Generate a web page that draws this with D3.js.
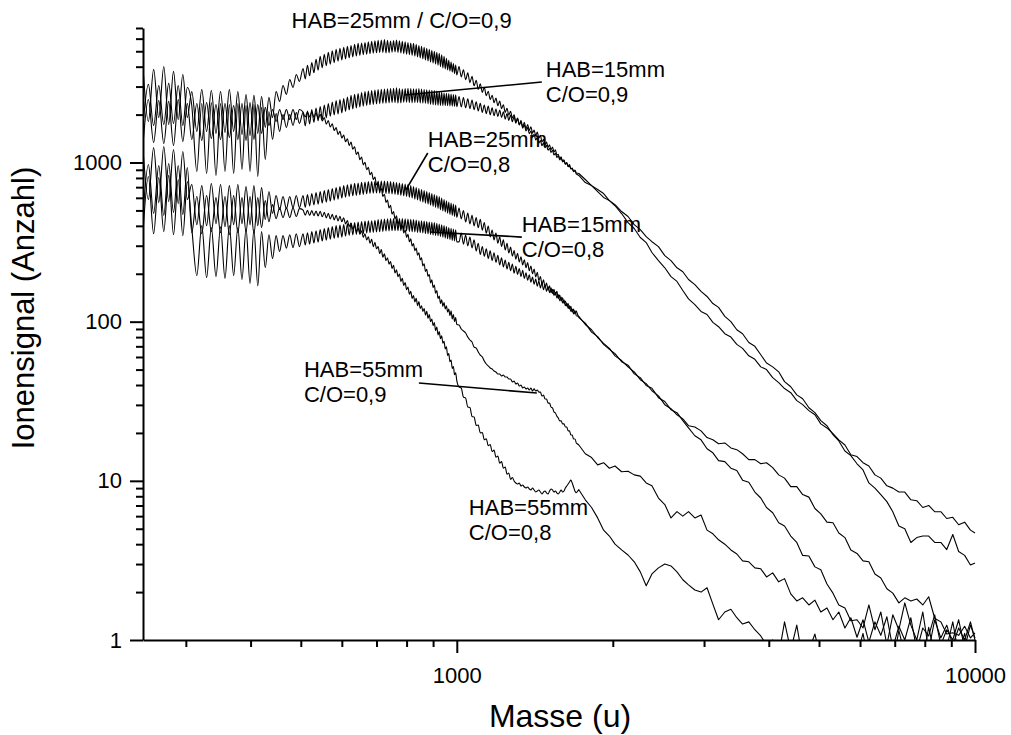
<!DOCTYPE html>
<html><head><meta charset="utf-8">
<script src="https://cdn.jsdelivr.net/npm/d3@7"></script>
<style>
html,body{margin:0;padding:0;background:#fff;}
svg{display:block;font-family:"Liberation Sans",Arial,Helvetica,sans-serif;}
</style></head><body>
<svg id="chart" width="1011" height="735"></svg>
<script>
// ---------- DATA ----------
const masses = [
248,254,260,266,272,278,284,290,296,302,
308,315,322,329,336,343,350,357,364,371,378,385,392,399,406,413,420,427,434,441,448,455,462,469,476,483,490,497,
505,510,515,520,525,530,535,540,545,550,555,560,565,570,575,580,585,590,595,600,
605,610,615,620,625,630,635,640,645,650,655,660,665,670,675,680,685,690,695,700,
705,710,715,720,725,730,735,740,745,750,755,760,765,770,775,780,785,790,795,800,
805,810,815,820,825,830,835,840,845,850,855,860,865,870,875,880,885,890,895,900,
905,910,915,920,925,930,935,940,945,950,955,960,965,970,975,980,985,990,995,1000,
1010,1020,1030,1040,1050,1060,1070,1080,1090,1100,1110,1120,1130,1140,1150,1160,1170,1180,1190,1200,
1210,1220,1230,1240,1250,1260,1270,1280,1290,1300,1310,1320,1330,1340,1350,1360,1370,1380,1390,1400,
1410,1420,1430,1440,1450,1460,1470,1480,1490,1500,1510,1520,1530,1540,1550,1560,1570,1580,1590,1600,
1610,1620,1630,1640,1650,1660,1670,1680,1690,1700,
1720,1770,1820,1870,1920,1970,2020,2080,2140,2200,2260,2320,2380,2450,2520,2590,2660,2730,2800,2880,2960,3040,3120,3200,3290,3380,3470,3560,3660,3760,3860,3960,4070,4180,4290,4410,4530,4650,4780,4910,5040,5180,5320,5460,5610,5760,5920,6080,6240,6410,6580,6760,6940,7130,7320,7520,7720,7930,8140,8360,8590,8820,9060,9300,9550,9800,10000
];

const hab25co09 = [
3955,1808,3845,1915,4010,1733,3735,1862,3575,1915,
2795,1567,2875,1567,2835,1522,2795,1545,2875,1567,2795,1500,2677,1480,2640,1522,2600,1660,2565,1915,2795,2420,3050,2677,3325,2960,3575,3230,
3900,3355,4075,3506,4250,3660,4445,3804,4640,3940,4780,4055,4920,4145,5030,4235,5140,4330,5215,4410,
5290,4480,5365,4540,5440,4610,5520,4665,5600,4715,5640,4760,5680,4790,5725,4825,5770,4865,5810,4890,
5850,4910,5885,4910,5920,4880,5860,4890,5800,4940,5840,4945,5880,4915,5825,4880,5770,4835,5725,4790,
5680,4760,5640,4715,5600,4665,5520,4610,5440,4545,5365,4480,5290,4410,5215,4345,5140,4280,5065,4220,
4990,4160,4920,4085,4850,4000,4745,3925,4640,3870,4510,3820,4380,3760,4285,3695,4190,3615,4100,3545,
4010,3450,3828,3313,3655,3177,3478,3033,3284,2879,3122,2757,2964,2628,2805,2488,2647,2376,2539,2278,
2435,2181,2307,2064,2187,1986,2100,1904,1997,1792,1896,1720,1802,1643,1723,1577,1657,1517,1577,1450,
1503,1387,1435,1326,1373,1273,1328,1237,1281,1196,1229,1157,1193,1116,1142,1075,1100,1038,1066,1009,
1025,976,994,942,953,910,918,876,885,847,
829,748,716,657,603,576,535,478,419,385,338,314,272,242,218,192,179,157,139,128,116,111,99,93,84,80,72,68,61,58,52,50,44.5,41.4,38,35.8,31.9,30.1,27.6,26,22.8,21.5,19.8,18.1,16.8,14.6,14.2,13,12.4,10.9,10.4,9.3,9.0,8.5,8.5,7.6,7.5,6.8,7.0,6.4,6.4,5.8,5.9,5.3,5.5,4.9,4.7
];

const hab15co09 = [
1733,3095,1708,3050,1733,3140,1760,3050,1708,2960,
2280,878,2350,853,2385,830,2350,878,2315,853,2350,904,2280,878,2315,816,2220,1045,2090,1396,2030,1567,2003,1660,2003,1708,2060,1760,
2060,1700,2105,1750,2155,1790,2200,1830,2250,1870,2300,1910,2350,1955,2400,1990,2455,2015,2490,2050,
2525,2100,2580,2140,2640,2170,2680,2205,2715,2235,2755,2260,2795,2285,2815,2305,2835,2320,2855,2335,
2875,2345,2885,2355,2895,2360,2905,2370,2915,2380,2930,2380,2950,2365,2920,2370,2890,2390,2910,2395,
2930,2380,2915,2375,2900,2380,2905,2380,2915,2370,2895,2360,2875,2355,2865,2335,2855,2320,2845,2305,
2835,2300,2815,2290,2795,2285,2765,2280,2735,2280,2725,2275,2715,2270,2695,2260,2677,2255,2660,2245,
2597,2232,2556,2206,2513,2181,2466,2146,2406,2106,2351,2064,2297,2029,2261,1994,2206,1968,2171,1945,
2134,1920,2085,1873,2032,1839,1988,1802,1943,1766,1901,1725,1839,1676,1786,1628,1733,1589,1679,1530,
1602,1476,1552,1432,1482,1347,1397,1292,1345,1248,1292,1203,1251,1166,1200,1111,1127,1052,1086,1019,
1041,980,998,948,970,914,922,881,898,859,
853,782,716,676,638,576,544,492,458,407,379,342,318,296,260,242,218,206,184,171,155,144,130,123,108,100,89,84,74,70,62,55,52,48.4,42,39,34.7,32.8,28.8,26.8,23.9,22.2,19.5,17.8,15.4,14.4,12.8,11.7,9.7,9.0,8.2,7.4,6.4,5.2,5.0,4.1,4.4,4.5,4.5,4.1,4.1,3.7,4.6,3.6,3.4,2.96,3.05
];

const hab25co08 = [
1208,585,1240,560,1260,568,1208,552,1172,585,
727,407,716,401,738,413,727,395,716,407,727,413,705,407,716,401,695,438,657,478,620,506,611,513,611,520,620,520,
620,523,629,534,638,541,648,548,657,556,667,564,676,572,687,580,697,589,706,598,
716,606,725,613,733,618,739,622,744,627,750,631,755,636,758,639,760,642,763,643,
766,643,766,642,766,639,763,637,760,635,755,632,749,627,744,623,738,618,733,613,
727,606,716,598,705,589,696,581,686,572,676,564,666,556,657,548,647,540,638,532,
629,524,620,515,611,505,598,496,585,489,575,481,564,472,556,465,548,458,540,452,
518,442,499,423,481,411,466,400,451,389,439,376,420,359,399,341,377,326,361,311,
341,297,327,282,311,270,294,258,280,247,269,237,256,227,245,218,235,209,224,200,
214,191,204,181,192,172,183,165,175,158,168,152,160,146,153,141,148,135,143,131,
137,126,131,121,126,116,120,112,117,109,
108,96,89,79.5,73,68,61,57,52,48.4,43.2,40.8,36.8,34.2,30.1,28.4,26,24.5,22.2,21.8,20.6,18.7,18.1,17.1,17.3,16.1,15.7,14.8,13.6,13.6,12.8,13.0,12.1,10.9,10.4,9.2,9.2,8.2,7.9,6.7,6.2,5.5,5.45,4.7,4.4,3.68,3.5,3.14,3.1,2.6,2.45,2.1,1.97,1.71,1.84,1.76,1.81,1.66,1.87,1.37,1.30,1.09,1.11,1.07,1.22,1.03,1.11
];

const hab15co08 = [
362,816,357,805,368,830,352,782,347,760,
390,195,401,189,390,192,395,187,401,195,390,184,384,174,379,168,368,218,352,249,347,276,347,290,352,292,357,296,
357,303,362,307,368,312,373,316,379,321,384,325,390,330,396,334,401,337,404,340,
407,345,412,349,416,351,419,353,422,356,425,358,428,361,430,363,431,364,434,366,
438,367,440,369,441,371,443,372,444,373,444,373,444,373,444,373,444,372,443,371,
441,369,440,367,438,366,435,364,431,363,430,361,428,358,425,356,422,353,421,351,
419,348,415,346,410,343,406,339,401,335,396,332,390,328,386,324,382,321,378,317,
317,361,307,350,299,340,291,327,278,311,264,297,257,287,249,279,242,271,236,261,
227,252,221,244,214,236,209,230,202,223,198,216,192,210,187,203,182,197,177,191,
172,185,167,180,163,175,159,170,155,166,152,163,150,160,147,155,140,147,135,141,
130,135,125,130,120,125,115,120,112,117,
106,98,86,80.5,72,67,63,56,53.3,47,44.5,39.7,38.2,33.3,31.5,28,26.8,23.9,21.5,19.2,18.1,15.9,15.0,13.4,13.2,12.0,11.6,10.1,9.8,8.5,7.8,6.8,6.3,5.45,5.2,4.5,4.1,3.4,3.37,2.88,2.76,2.25,1.97,1.66,1.59,1.32,1.34,1.19,1.66,1.16,1.5,0.93,1.44,1.16,1.71,1.24,1.0,1.5,0.86,1.34,1.03,1.24,0.93,1.19,1.0,1.30,1.0
];

const hab55co09 = [
1298,2490,1335,2455,1316,2420,1280,2490,1356,2350,
1396,2350,1377,2385,1415,2315,1396,2350,1435,2280,1396,2350,1377,2385,1396,2315,1522,2220,1708,2155,1808,2155,1862,2155,1862,2155,1862,2155,
2078,1932,2078,1932,2078,1923,2051,1890,2010,1826,1915,1743,1834,1670,1753,1588,1660,1502,1572,1425,
1490,1350,1410,1280,1345,1213,1255,1125,1163,1042,1081,967,1002,902,934,838,869,782,810,724,
750,664,688,612,632,562,580,518,538,474,492,441,463,411,428,385,402,361,377,339,
354,318,332,299,310,279,290,262,271,244,252,224,231,207,213,193,198,175,183,164,
170,151,157,140,145,130,137,125,132,120,126,115,120,109,117,104,111,100,106,96,
95.3,89.9,87.4,84.9,80.1,76.7,74.5,69.3,68.3,64.5,61.7,60.0,56.6,54.2,52.7,51.2,50.4,49.0,48.3,46.9,
46.9,45.6,46.2,44.9,44.9,43.6,43.6,41.8,42.4,40.6,41.2,39.4,40.0,38.3,38.9,37.8,38.3,37.2,38.3,36.7,
37.8,36.7,37.2,36.1,36.1,34.1,34.6,32.7,32.7,30.8,30.8,29.1,28.7,27.1,26.7,25.5,24.8,23.8,23.8,22.8,
22.8,21.8,21.8,20.6,20.6,19.4,19.4,18.3,18.3,17.3,
16.8,14.8,14.0,12.6,13.0,12.0,12.4,11.4,11.5,10.9,10.7,9.7,9.3,7.8,7.1,5.85,6.4,6.0,6.4,5.85,6.1,4.9,4.65,4.26,4.0,3.68,3.47,3.14,3.1,2.84,2.8,2.49,2.64,2.32,2.43,1.95,1.76,1.84,1.66,1.78,1.5,1.59,1.34,1.50,1.19,1.38,1.04,1.34,0.97,1.30,1.07,1.40,0.89,1.22,1.0,1.38,0.86,1.19,1.06,1.44,0.93,1.16,1.0,1.34,0.89,1.24,1.03
];

const hab55co08 = [
471,971,478,957,465,985,485,957,471,930,
362,611,357,620,368,602,362,611,352,620,362,602,368,611,357,602,390,576,425,544,444,520,450,520,450,520,458,513,
503,467,500,465,499,464,496,461,494,456,486,449,479,442,472,436,466,430,459,424,
450,411,432,396,417,381,401,367,387,355,372,339,357,326,342,311,329,296,315,287,
296,268,284,254,267,242,252,230,239,216,226,202,212,192,199,179,187,169,176,159,
165,149,155,140,146,133,140,126,134,121,126,116,121,110,116,105,111,100,104,94.4,
98.6,88,92.5,82.5,86.7,78.2,81.5,73.3,75.3,67.4,69.5,61.4,63,56,57.5,50.8,52.3,46.4,47.7,42.6,
38.9,38.3,33.6,33.1,29.1,28.9,25.4,25.2,22.3,22.4,20.0,20.1,18.1,18.4,16.6,16.9,15.3,15.6,14.1,14.3,
12.9,13.2,12.0,12.2,11.0,11.2,10.2,10.5,9.98,9.69,9.55,9.69,9.28,9.41,9.15,9.02,9.15,8.89,8.76,9.02,
8.76,8.51,8.63,8.76,8.51,8.27,8.51,8.63,8.39,8.27,8.63,8.89,8.76,8.51,8.63,8.39,8.27,8.51,8.76,8.51,
8.63,9.02,9.28,9.55,9.83,10.1,9.69,9.15,8.63,8.39,
8.8,7.6,6.8,5.85,4.9,4.5,4.0,3.68,3.42,3.1,2.68,2.19,2.6,2.84,3.0,2.92,2.68,2.39,2.22,2.06,2.0,2.13,1.68,1.34,1.5,1.56,1.38,1.26,1.30,1.16,1.06,0.93,1.0,0.8,1.30,0.86,1.24,0.75,0.86,1.09,0.75,0.7,0.8,0.75,0.9,0.7,0.8,1.1,0.7,0.8,0.75,0.9,0.7,1.15,0.8,0.7,0.85,0.75,1.2,0.8,0.7,0.9,1.3,0.8,1.1,0.75,0.8
];

const yMajorTicks = [1, 10, 100, 1000];
const yMinorTicks = [2,3,4,5,6,7,8,9,20,30,40,50,60,70,80,90,200,300,400,500,600,700,800,900,2000,3000,4000,5000,6000,7000];
const xMajorTicks = [1000, 10000];
const xMinorTicks = [300,400,500,600,700,800,900,2000,3000,4000,5000,6000,7000,8000,9000];

// curve labels: text lines, anchor (mass, value) of first baseline
const labelTexts = [
  ["HAB=25mm / C/O=0,9"],
  ["HAB=15mm", "C/O=0,9"],
  ["HAB=25mm", "C/O=0,8"],
  ["HAB=15mm", "C/O=0,8"],
  ["HAB=55mm", "C/O=0,9"],
  ["HAB=55mm", "C/O=0,8"]
];
const labelAnchors = [[480, 7000], [1485, 3445], [879, 1251], [1335, 366], [507, 44.9], [1055, 6.1]];
// pointer lines from label to curve (mass, value) pairs
const pointerLines = [
  [[1459, 3205], [793, 2656]],
  [[879, 1148], [797, 671]],
  [[1335, 340], [887, 366]],
  [[845, 41.2], [1427, 35.6]]
];

// ---------- DRAWING ----------
const svg = d3.select("#chart");
const x = d3.scaleLog().domain([248, 10000]).range([143, 975]);
const y = d3.scaleLog().domain([1, 7000]).range([640, 28]);

svg.append("defs").append("clipPath").attr("id", "plotclip")
  .append("rect").attr("x", 143).attr("y", 0).attr("width", 840).attr("height", 640);

const allSeries = [hab25co09, hab15co09, hab25co08, hab15co08, hab55co09, hab55co08];
// smooth (oscillating) part below 1700 u, raw noisy polyline above
const smoothLine = d3.line().x(d => x(d[0])).y(d => y(d[1])).curve(d3.curveMonotoneX);
const rawLine = d3.line().x(d => x(d[0])).y(d => y(d[1]));
const plot = svg.append("g").attr("clip-path", "url(#plotclip)");
allSeries.forEach(vals => {
  const pts = [];
  const n = Math.min(masses.length, vals.length);
  for (let i = 0; i < n; i++) if (vals[i] > 0) pts.push([masses[i], vals[i]]);
  const low = pts.filter(p => p[0] <= 1700);
  const high = pts.filter(p => p[0] >= 1700);
  [[low, smoothLine], [high, rawLine]].forEach(([d, gen]) => {
    plot.append("path").datum(d).attr("d", gen)
      .attr("fill", "none").attr("stroke", "#000").attr("stroke-width", 1.1)
      .attr("stroke-linejoin", "round");
  });
});

function styleAxis(g) {
  g.attr("font-family", null).attr("font-size", null);
  g.selectAll("path, line").attr("stroke", "#000").attr("stroke-width", 2);
  g.selectAll("text").attr("fill", "#000").style("font-size", "22px");
}

svg.append("g").attr("transform", "translate(143,0)")
  .call(d3.axisLeft(y).tickValues(yMinorTicks).tickFormat("").tickSize(7).tickSizeOuter(0))
  .call(g => g.select(".domain").remove()).call(styleAxis);
svg.append("g").attr("transform", "translate(143,0)")
  .call(d3.axisLeft(y).tickValues(yMajorTicks).tickFormat(d3.format("d")).tickSize(13).tickSizeOuter(0).tickPadding(8))
  .call(styleAxis);

svg.append("g").attr("transform", "translate(0,640)")
  .call(d3.axisBottom(x).tickValues(xMinorTicks).tickFormat("").tickSize(7).tickSizeOuter(0))
  .call(g => g.select(".domain").remove()).call(styleAxis);
svg.append("g").attr("transform", "translate(0,640)")
  .call(d3.axisBottom(x).tickValues(xMajorTicks).tickFormat(d3.format("d")).tickSize(13).tickSizeOuter(0).tickPadding(14))
  .call(styleAxis);

svg.append("text").attr("x", 560).attr("y", 727).attr("text-anchor", "middle")
  .style("font-size", "32px").attr("fill", "#000").text("Masse (u)");
svg.append("text").attr("transform", "translate(34,308) rotate(-90)").attr("text-anchor", "middle")
  .style("font-size", "31px").attr("fill", "#000").text("Ionensignal (Anzahl)");

// labels
labelTexts.forEach((lines, i) => {
  const t = svg.append("text").attr("x", x(labelAnchors[i][0])).attr("y", y(labelAnchors[i][1]))
    .style("font-size", "22px").attr("fill", "#000");
  lines.forEach((s, j) => {
    t.append("tspan").attr("x", x(labelAnchors[i][0])).attr("dy", j === 0 ? 0 : 25).text(s);
  });
});
pointerLines.forEach(p => {
  svg.append("line")
    .attr("x1", x(p[0][0])).attr("y1", y(p[0][1]))
    .attr("x2", x(p[1][0])).attr("y2", y(p[1][1]))
    .attr("stroke", "#000").attr("stroke-width", 1.6);
});
</script>
</body></html>
